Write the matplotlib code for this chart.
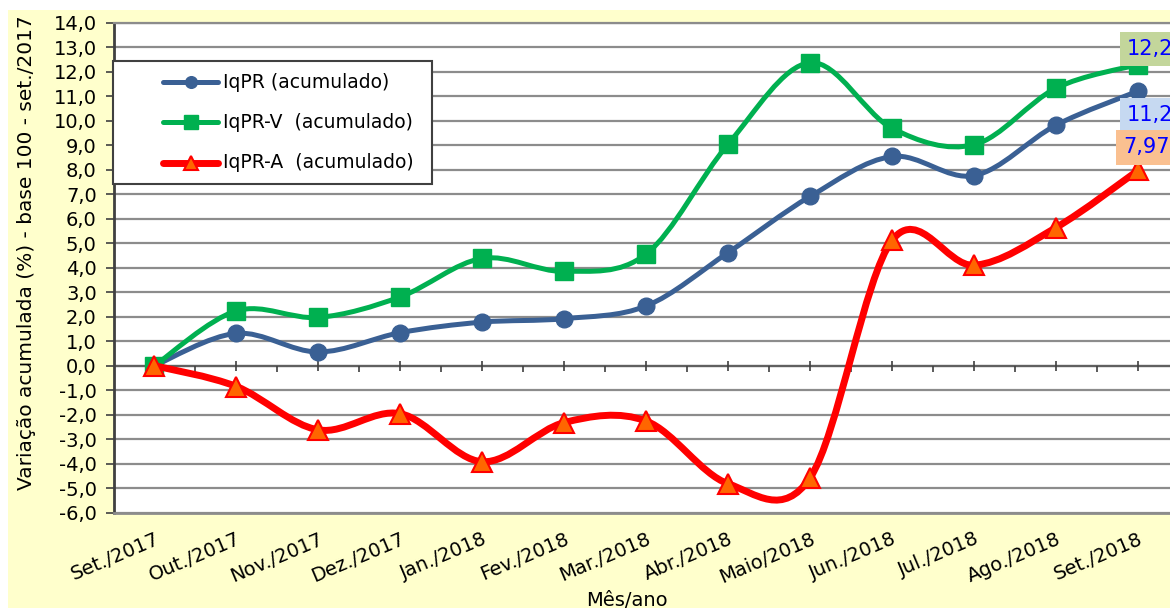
import numpy as np
import matplotlib
matplotlib.use('Agg')
import matplotlib.pyplot as plt
from matplotlib.path import Path
from matplotlib.patches import PathPatch, Rectangle
from matplotlib.lines import Line2D
from matplotlib.ticker import FuncFormatter

meses = ['Set./2017', 'Out./2017', 'Nov./2017', 'Dez./2017', 'Jan./2018', 'Fev./2018',
         'Mar./2018', 'Abr./2018', 'Maio/2018', 'Jun./2018', 'Jul./2018', 'Ago./2018',
         'Set./2018']

iqpr = [0.0, 1.32, 0.56, 1.35, 1.78, 1.92, 2.44, 4.62, 6.91, 8.54, 7.76, 9.82, 11.21]
iqpr_v = [0.0, 2.24, 1.97, 2.81, 4.38, 3.85, 4.56, 9.05, 12.37, 9.69, 9.02, 11.33, 12.29]
iqpr_a = [0.0, -0.85, -2.62, -1.96, -3.92, -2.32, -2.26, -4.82, -4.57, 5.12, 4.10, 5.64, 7.97]

nomes = ['IqPR (acumulado)', 'IqPR-V  (acumulado)', 'IqPR-A  (acumulado)']
rotulos_finais = ['11,21', '12,29', '7,97']

W, H = 1170, 612


def smooth_path(xs, ys):
    # bezier like excel "smoothed line" (tension 1/6)
    xs = np.asarray(xs, float)
    ys = np.asarray(ys, float)
    n = len(xs)
    verts = [(xs[0], ys[0])]
    codes = [Path.MOVETO]
    for i in range(n - 1):
        i0 = max(i - 1, 0)
        i3 = min(i + 2, n - 1)
        c1 = (xs[i] + (xs[i + 1] - xs[i0]) / 6, ys[i] + (ys[i + 1] - ys[i0]) / 6)
        c2 = (xs[i + 1] - (xs[i3] - xs[i]) / 6, ys[i + 1] - (ys[i3] - ys[i]) / 6)
        verts += [c1, c2, (xs[i + 1], ys[i + 1])]
        codes += [Path.CURVE4] * 3
    return Path(verts, codes)


def fx(px):
    return px / W


def fy(py):
    return 1 - py / H


fig = plt.figure(figsize=(W / 100, H / 100), dpi=100)
fig.patch.set_facecolor('white')
fig.patches.append(Rectangle((fx(8), fy(608)), 1, (608 - 10) / H, transform=fig.transFigure,
                             facecolor='#FFFFCC', edgecolor='none', zorder=-10))

ax = fig.add_axes([fx(113.5), fy(512.7), (1179 - 113.5) / W, (512.7 - 22.7) / H])
ax.set_facecolor('white')
x = np.arange(len(meses))
ax.set_xlim(-0.5, len(meses) - 0.5)
ax.set_ylim(-6, 14)

ax.set_yticks(np.arange(-6, 15, 1))
ax.yaxis.set_major_formatter(FuncFormatter(lambda v, p: ('%.1f' % v).replace('.', ',')))
ax.yaxis.grid(True, color='#8c8c8c', lw=1.6)
ax.set_axisbelow(True)
ax.tick_params(axis='y', labelsize=14, length=6, width=1.2, color='#404040', pad=6)

ax.set_xticks(x)
ax.set_xticklabels(meses, rotation=23, ha='right', va='top', rotation_mode='anchor', fontsize=14)
ax.tick_params(axis='x', length=0, pad=12)

ax.spines['right'].set_visible(False)
ax.spines['left'].set_color('#404040')
ax.spines['left'].set_linewidth(2)
ax.spines['top'].set_color('#8c8c8c')
ax.spines['top'].set_linewidth(1.6)
ax.spines['bottom'].set_color('#8c8c8c')
ax.spines['bottom'].set_linewidth(2)

# eixo das categorias passa no zero
ax.axhline(0, color='#606060', lw=1.6, zorder=1.5)
ax.vlines(x, -0.2, 0.2, color='#404040', lw=1.2, zorder=1.5)
ax.vlines(x[:-1] + 0.5, -0.25, 0, color='#404040', lw=1.2, zorder=1.5)

series = [
    (iqpr, '#3A6094', 3.6, dict(marker='o', ms=12, mfc='#3A6094', mec='#3A6094')),
    (iqpr_v, '#00B050', 3.6, dict(marker='s', ms=13.5, mfc='#00B050', mec='#00B050')),
    (iqpr_a, '#FF0000', 5, dict(marker='^', ms=14, mfc='#FF6600', mec='#FF0000', mew=1.5)),
]

for i, (ys, cor, lw, mk) in enumerate(series):
    ax.add_patch(PathPatch(smooth_path(x, ys), fill=False, edgecolor=cor, lw=lw,
                           capstyle='round', joinstyle='round', zorder=3 + i))
    ax.plot(x, ys, linestyle='none', zorder=3 + i, **mk)

# rotulos do ultimo mes
caixas = [('#C6D9F1', -11, -24), ('#C3D69B', -11, 16), ('#FAC090', -15, 23)]
for (ys, cor, lw, mk), txt, (fc, dx, dy) in zip(series, rotulos_finais, caixas):
    ax.annotate(txt, xy=(x[-1], ys[-1]), xytext=(dx, dy), textcoords='offset pixels',
                ha='left', va='center', fontsize=15, color='#0000FF', zorder=10,
                annotation_clip=False,
                bbox=dict(boxstyle='square,pad=0.34', fc=fc, ec='none'))

# legenda
fig.patches.append(Rectangle((fx(113), fy(184)), (432 - 113) / W, (184 - 61) / H,
                             transform=fig.transFigure, facecolor='white',
                             edgecolor='#404040', lw=1.5, zorder=20))
for (ys, cor, lw, mk), nome, py in zip(series, nomes, [82, 122, 163]):
    fig.lines.append(Line2D([fx(163), fx(218)], [fy(py), fy(py)], transform=fig.transFigure,
                            color=cor, lw=lw, solid_capstyle='round', zorder=21))
    mk2 = dict(mk)
    mk2['ms'] = mk2['ms'] * 0.7
    fig.lines.append(Line2D([fx(190.5)], [fy(py)], transform=fig.transFigure,
                            linestyle='none', zorder=22, **mk2))
    fig.text(fx(223), fy(py), nome, fontsize=13.5, va='center', ha='left', zorder=23)

fig.text(fx(27), fy(253), 'Variação acumulada (%) - base 100 - set./2017', rotation=90,
         ha='center', va='center', fontsize=14.5)
fig.text(fx(627), fy(600), 'Mês/ano', ha='center', va='center', fontsize=14)

fig.savefig('out.png', dpi=100, facecolor=fig.get_facecolor())
